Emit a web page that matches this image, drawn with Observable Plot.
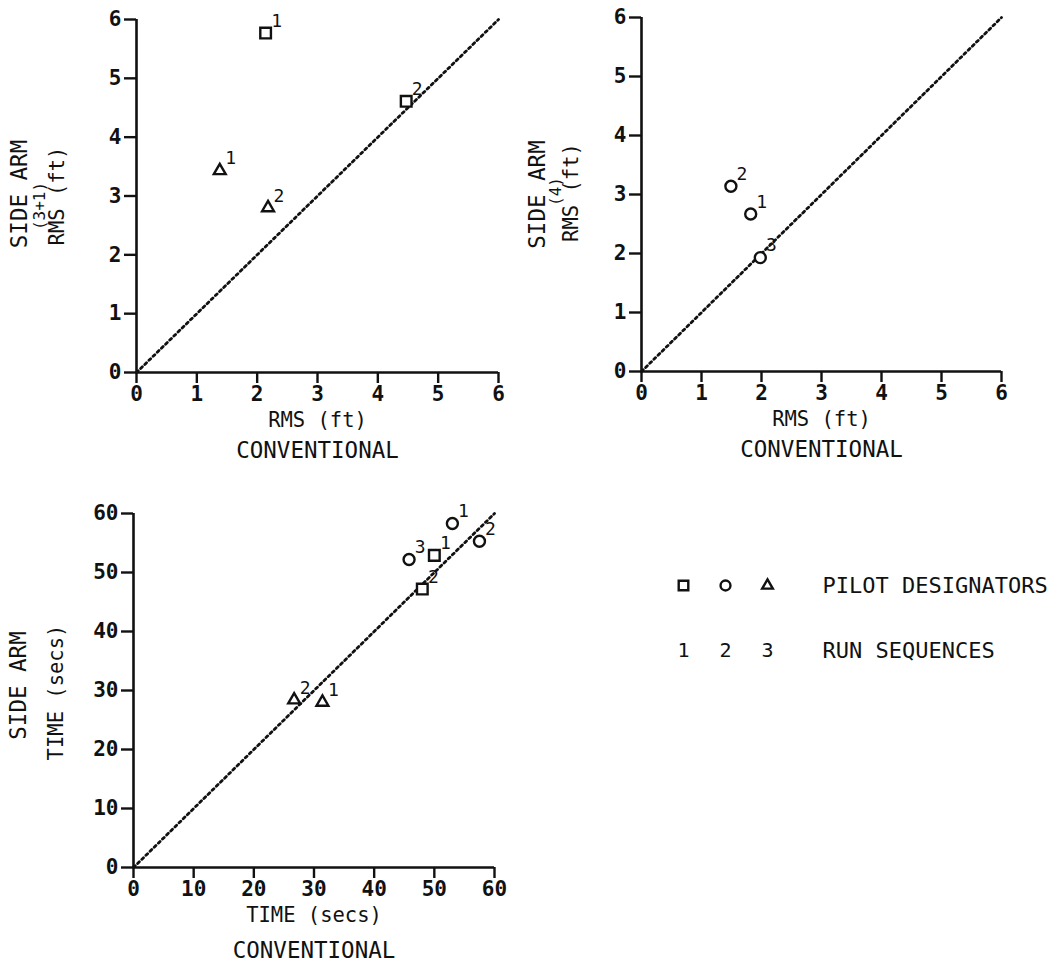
<!DOCTYPE html>
<html><head><meta charset="utf-8">
<script src="https://cdn.jsdelivr.net/npm/d3@7"></script>
<script src="https://cdn.jsdelivr.net/npm/@observablehq/plot@0.6"></script>
<style>
html,body{margin:0;padding:0;background:#fff;}
#root{position:relative;width:1061px;height:963px;overflow:hidden;background:#fff;}
.panel{position:absolute;}
.panel svg{overflow:visible;}
.panel g[aria-label*="axis"] path,.panel g[aria-label*="axis"] line,.panel g.tick line{stroke-width:2.4px;}
</style></head><body><div id="root"></div>
<script>
// ---- tick labels ----
const rmsTicks = [0, 1, 2, 3, 4, 5, 6];
const timeTicks = [0, 10, 20, 30, 40, 50, 60];
const diagRms = [0, 6];
const diagTime = [0, 60];

// ---- panel A: SIDE ARM (3+1) RMS vs CONVENTIONAL RMS ----
const aConv = [2.14, 4.47, 1.38, 2.18];
const aSide = [5.77, 4.61, 3.43, 2.80];
const aPilot = ["square", "square", "triangle", "triangle"];
const aRun = ["1", "2", "1", "2"];
const aYLabels = ["SIDE ARM", "(3+1)", "RMS (ft)"];

// ---- panel B: SIDE ARM (4) RMS vs CONVENTIONAL RMS ----
const bConv = [1.82, 1.49, 1.98];
const bSide = [2.67, 3.14, 1.93];
const bPilot = ["circle", "circle", "circle"];
const bRun = ["1", "2", "3"];
const bYLabels = ["SIDE ARM", "(4)", "RMS (ft)"];

// ---- panel C: SIDE ARM TIME vs CONVENTIONAL TIME ----
const cConv = [53.0, 57.5, 45.8, 50.0, 48.0, 31.4, 26.7];
const cSide = [58.3, 55.3, 52.2, 52.9, 47.2, 28.0, 28.4];
const cPilot = ["circle", "circle", "circle", "square", "square", "triangle", "triangle"];
const cRun = ["1", "2", "3", "1", "2", "1", "2"];
const cYLabels = ["SIDE ARM", "TIME (secs)"];

// ---- legend ----
const legendSymbols = ["square", "circle", "triangle"];
const legendRuns = ["1", "2", "3"];
const legendLabels = ["PILOT DESIGNATORS", "RUN SEQUENCES"];
const xGroupTitle = "CONVENTIONAL";

const INK = "#111";
const FONT = "'DejaVu Sans Mono', 'Liberation Mono', monospace";
const symR = {square: 6, circle: 5.5, triangle: 4.4};

function rowsOf(conv, side, pilot, run) {
  return conv.map((c, i) => ({conv: c, side: side[i], pilot: pilot[i], run: run[i]}));
}

function makePanel(cfg) {
  const {rows, ticks, diag, left, top, width, height, margin, yLabs, xTitle} = cfg;
  const dom = [ticks[0], ticks[ticks.length - 1]];
  const marks = [
    Plot.line(diag.map(v => ({conv: v, side: v})), {x: "conv", y: "side", stroke: INK, strokeWidth: 2.8, strokeDasharray: "2.4,3.4"}),
    Plot.ruleX([dom[0]], {stroke: INK, strokeWidth: 2.6}),
    Plot.ruleY([dom[0]], {stroke: INK, strokeWidth: 2.6}),
    ...legendSymbols.map(s => Plot.dot(rows.filter(d => d.pilot === s), {x: "conv", y: "side", symbol: s, r: symR[s], stroke: INK, strokeWidth: 2.4, fill: "white"})),
    Plot.text(rows, {x: "conv", y: "side", text: "run", dx: 11, dy: -12, fontSize: 18, fontWeight: "normal", fill: INK}),
    Plot.text([xTitle], {frameAnchor: "bottom", text: d => d, dy: 48, lineAnchor: "middle", fontSize: 20.5, fontWeight: "normal", fill: INK}),
    Plot.text([xGroupTitle], {frameAnchor: "bottom", text: d => d, dy: cfg.convDy, lineAnchor: "middle", fontSize: 22.5, fontWeight: "normal", fill: INK}),
    ...yLabs.map(l => Plot.text([l.text], {frameAnchor: "left", text: d => d, rotate: -90, dx: l.dx, dy: l.dy, textAnchor: "middle", lineAnchor: "middle", fontSize: l.size, fontWeight: "normal", fill: INK}))
  ];
  const chart = Plot.plot({
    width, height,
    marginLeft: margin[0], marginRight: margin[1], marginTop: margin[2], marginBottom: margin[3],
    style: {fontFamily: FONT, fontSize: "21px", fontWeight: "bold", color: INK, background: "transparent", maxWidth: "none", overflow: "visible"},
    x: {domain: dom, ticks, tickSize: 11, tickPadding: 3, label: null, tickFormat: d => String(d)},
    y: {domain: dom, ticks, tickSize: 12, tickPadding: 3, label: null, tickFormat: d => String(d)},
    marks
  });
  const div = document.createElement("div");
  div.className = "panel";
  div.style.left = left + "px";
  div.style.top = top + "px";
  div.style.width = width + "px";
  div.style.height = height + "px";
  div.appendChild(chart);
  document.getElementById("root").appendChild(div);
}

makePanel({
  rows: rowsOf(aConv, aSide, aPilot, aRun), ticks: rmsTicks, diag: diagRms,
  left: 0, top: 0, width: 520, height: 470, margin: [136, 22, 19, 98],
  xTitle: "RMS (ft)", convDy: 78,
  yLabs: [
    {text: aYLabels[0], dx: -117, dy: -2, size: 22.5},
    {text: aYLabels[1], dx: -97, dy: 10, size: 16},
    {text: aYLabels[2], dx: -79, dy: 0, size: 20.5}
  ]
});

makePanel({
  rows: rowsOf(bConv, bSide, bPilot, bRun), ticks: rmsTicks, diag: diagRms,
  left: 530, top: 0, width: 531, height: 470, margin: [111, 60, 17, 99],
  xTitle: "RMS (ft)", convDy: 78,
  yLabs: [
    {text: bYLabels[0], dx: -104, dy: 0, size: 22.5},
    {text: bYLabels[1], dx: -86, dy: -3, size: 16},
    {text: bYLabels[2], dx: -70, dy: -2, size: 20.5}
  ]
});

makePanel({
  rows: rowsOf(cConv, cSide, cPilot, cRun), ticks: timeTicks, diag: diagTime,
  left: 0, top: 470, width: 520, height: 493, margin: [133, 26, 43, 96],
  xTitle: "TIME (secs)", convDy: 83,
  yLabs: [
    {text: cYLabels[0], dx: -115, dy: -5, size: 22.5},
    {text: cYLabels[1], dx: -77, dy: 2, size: 20.5}
  ]
});

// legend
{
  const legend = Plot.plot({
    width: 420, height: 120, marginLeft: 0, marginRight: 0, marginTop: 0, marginBottom: 0,
    style: {fontFamily: FONT, fontSize: "19px", color: INK, background: "transparent", maxWidth: "none", overflow: "visible"},
    x: {type: "point", domain: legendSymbols, range: [42, 126], padding: 0, axis: null},
    y: {type: "point", domain: legendLabels, range: [30, 95], padding: 0, axis: null},
    marks: [
      ...legendSymbols.map(s => Plot.dot([s], {x: d => d, y: () => legendLabels[0], symbol: s, r: symR[s] * 0.9, stroke: INK, strokeWidth: 2.4, fill: "none"})),
      Plot.text(legendRuns, {x: (d, i) => legendSymbols[i], y: () => legendLabels[1], text: d => d, fontSize: 20, fill: INK}),
      Plot.text(legendLabels, {y: d => d, frameAnchor: "left", text: d => d, dx: 181, textAnchor: "start", fontSize: 22, fill: INK})
    ]
  });
  const div = document.createElement("div");
  div.className = "panel";
  div.style.left = "641px";
  div.style.top = "555px";
  div.appendChild(legend);
  document.getElementById("root").appendChild(div);
}
</script></body></html>
